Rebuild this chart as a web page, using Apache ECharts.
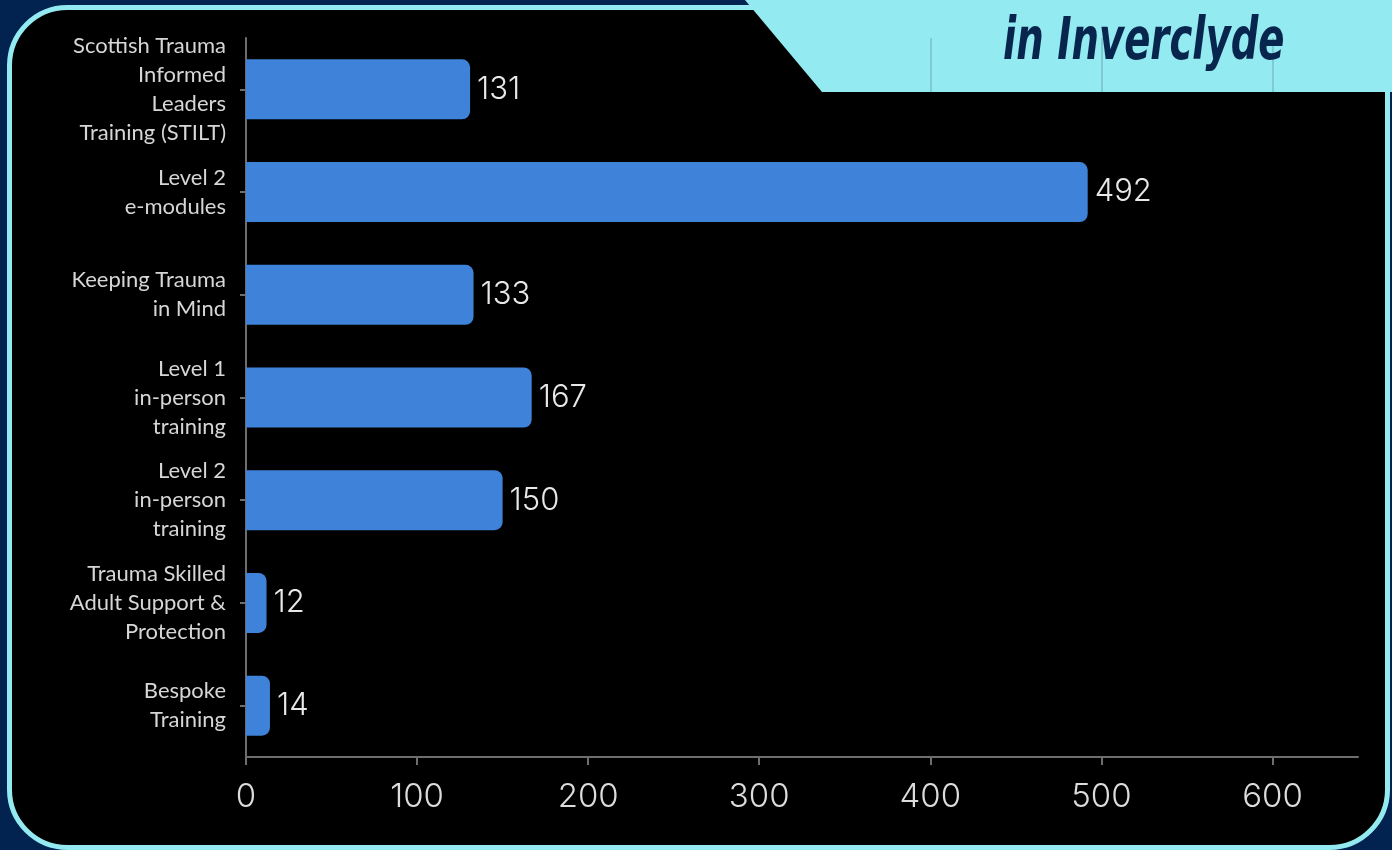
<!DOCTYPE html>
<html><head><meta charset="utf-8">
<script src="https://cdn.jsdelivr.net/npm/echarts@6/dist/echarts.min.js"></script>
<style>html,body{margin:0;padding:0;background:#02234f;}#c{width:1392px;height:850px;}</style>
</head><body><div id="c"></div><script>
const categories = [
  "Scottish Trauma\nInformed\nLeaders\nTraining (STILT)",
  "Level 2\ne-modules",
  "Keeping Trauma\nin Mind",
  "Level 1\nin-person\ntraining",
  "Level 2\nin-person\ntraining",
  "Trauma Skilled\nAdult Support &\nProtection",
  "Bespoke\nTraining"
];
const values = [131, 492, 133, 167, 150, 12, 14];
const tickValues = [0, 100, 200, 300, 400, 500, 600];
const axisMax = 650;
const bannerText = "in Inverclyde";

const chart = echarts.init(document.getElementById('c'), null, {renderer: 'canvas'});
chart.setOption({
  backgroundColor: '#02234f',
  animation: false,
  graphic: [
    {type: 'rect', z: -10, shape: {x: 9.5, y: 7.5, width: 1378, height: 840, r: 58},
      style: {fill: '#000', stroke: '#93eaf0', lineWidth: 5}},
    {type: 'polygon', z: -5, shape: {points: [[745, 0], [1392, 0], [1392, 92], [822, 92]]},
      style: {fill: '#93eaf0'}},
    {type: 'text', z: 100, x: 1003, y: 15, scaleX: 0.74,
      style: {x: 0, y: 0, text: bannerText, fill: '#08264d', verticalAlign: 'top',
        font: 'italic bold 58px "DejaVu Sans Condensed", "DejaVu Sans", sans-serif'}}
  ],
  grid: {left: 246, right: 34, top: 38, bottom: 93, containLabel: false},
  xAxis: {
    type: 'value', min: 0, max: axisMax, interval: 50,
    axisLine: {show: true, lineStyle: {color: '#6e6e6e', width: 2}},
    axisTick: {show: true, length: 8, customValues: tickValues, lineStyle: {color: '#6e6e6e', width: 2}},
    splitLine: {show: true, lineStyle: {color: 'rgba(0,0,0,0.13)', width: 2}},
    axisLabel: {color: '#dcdcdc', fontSize: 33, fontFamily: 'Inter, sans-serif', fontWeight: 300, margin: 24,
      customValues: tickValues}
  },
  yAxis: {
    type: 'category', data: categories, inverse: true,
    axisLine: {show: true, lineStyle: {color: '#6e6e6e', width: 2}},
    axisTick: {show: true, alignWithLabel: true, length: 6, lineStyle: {color: '#6e6e6e', width: 2}},
    axisLabel: {color: '#d6d6d6', fontSize: 22, lineHeight: 29, fontFamily: 'Lato, sans-serif', margin: 20, align: 'right'}
  },
  series: [{
    type: 'bar', data: values, barWidth: 60,
    itemStyle: {color: '#3f82d9', borderRadius: [0, 8, 8, 0]},
    label: {show: true, position: 'right', distance: 7, color: '#e8e8e8', fontSize: 31,
      fontFamily: 'Inter, sans-serif', fontWeight: 300}
  }]
});
</script></body></html>
